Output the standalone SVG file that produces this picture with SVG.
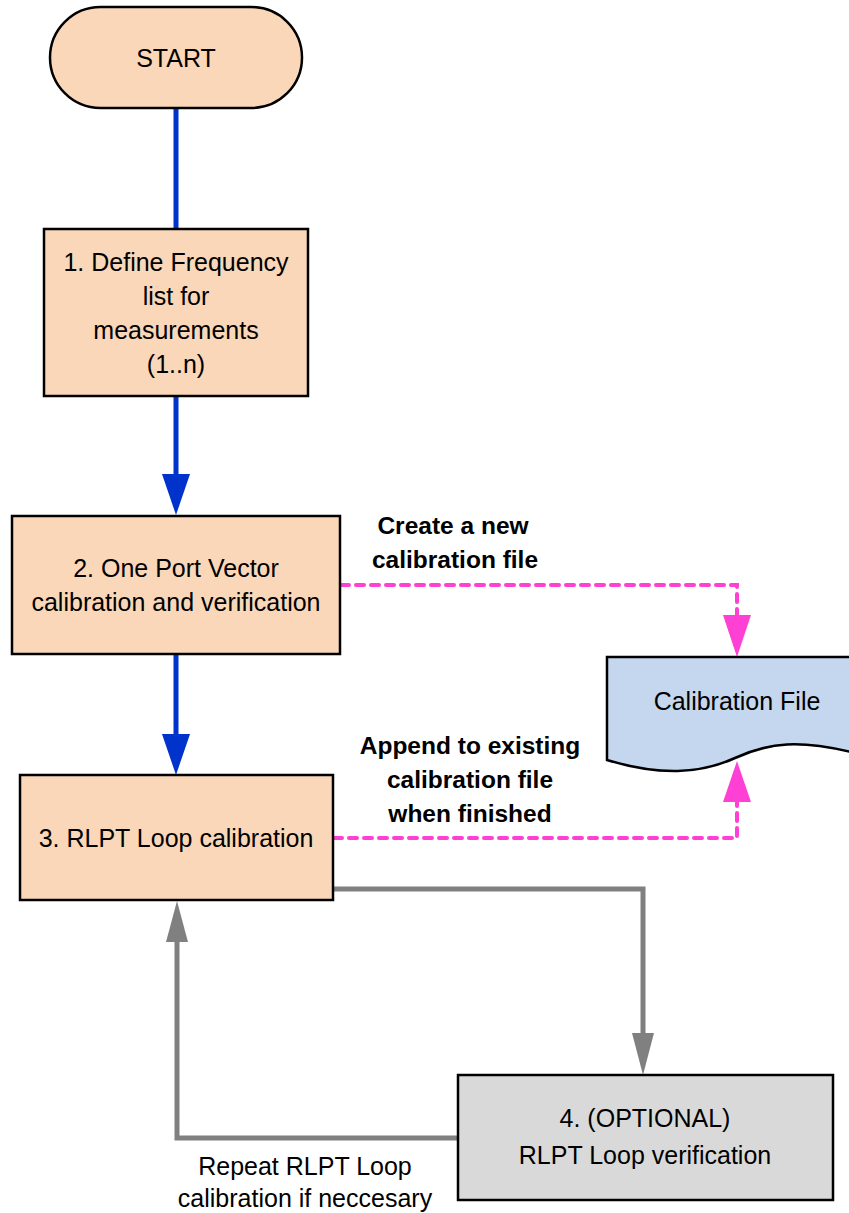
<svg xmlns="http://www.w3.org/2000/svg" width="849" height="1213" viewBox="0 0 849 1213">
<style>
.n{fill:#fad7b9;stroke:#000;stroke-width:2.5}
.g{fill:#d9d9d9;stroke:#000;stroke-width:2.5}
.f{fill:#c5d7ee;stroke:#000;stroke-width:2.5}
.t{font-family:"Liberation Sans",Arial,sans-serif;font-size:25px;fill:#000;text-anchor:middle}
.b{font-weight:bold;font-size:24.5px}
.blue{stroke:#0033cc;stroke-width:5;fill:none}
.pink{stroke:#ff40d4;stroke-width:4;fill:none;stroke-dasharray:8 7;stroke-linecap:round}
.gray{stroke:#808080;stroke-width:5;fill:none}
</style>
<rect width="849" height="1213" fill="#fff"/>
<g id="connectors">
<line class="blue" x1="176" y1="108" x2="176" y2="229"/>
<line class="blue" x1="176" y1="396" x2="176" y2="476"/>
<polygon points="162,474 190,474 176,515" fill="#0033cc"/>
<line class="blue" x1="176" y1="654" x2="176" y2="736"/>
<polygon points="162,734 190,734 176,775" fill="#0033cc"/>
<polyline class="pink" points="341,585 737,585 737,617"/>
<polygon points="723,615 751,615 737,657" fill="#ff40d4"/>
<polyline class="pink" points="334,838 737,838 737,800"/>
<polygon points="723,802 751,802 737,761" fill="#ff40d4"/>
<polyline class="gray" points="333,889 643,889 643,1035"/>
<polygon points="632,1033 654,1033 643,1075" fill="#808080"/>
<polyline class="gray" points="458,1138 177,1138 177,940"/>
<polygon points="166,942 188,942 177,901" fill="#808080"/>
</g>
<g id="start">
<rect class="n" x="50" y="7" width="252" height="101" rx="50.5" ry="50.5"/>
<text class="t" x="176" y="67">START</text>
</g>
<g id="step1">
<rect class="n" x="44" y="229" width="264" height="167"/>
<text class="t" x="176" y="271">1. Define Frequency</text>
<text class="t" x="176" y="305">list for</text>
<text class="t" x="176" y="339">measurements</text>
<text class="t" x="176" y="373">(1..n)</text>
</g>
<g id="step2">
<rect class="n" x="12" y="516" width="328" height="138"/>
<text class="t" x="176" y="577">2. One Port Vector</text>
<text class="t" x="176" y="611">calibration and verification</text>
</g>
<g id="step3">
<rect class="n" x="20" y="775" width="313" height="125"/>
<text class="t" x="176" y="847">3. RLPT Loop calibration</text>
</g>
<g id="step4">
<rect class="g" x="458" y="1075" width="375" height="125"/>
<text class="t" x="645" y="1127">4. (OPTIONAL)</text>
<text class="t" x="645" y="1164">RLPT Loop verification</text>
</g>
<g id="calfile">
<path class="f" d="M607,657 H851 V752 C800,740 770,742 735,758 C700,774 660,776 607,760 Z"/>
<text class="t" x="737" y="710">Calibration File</text>
</g>
<g id="labels">
<text class="t b" x="453" y="534">Create a new</text>
<text class="t b" x="455" y="568">calibration file</text>
<text class="t b" x="470" y="754">Append to existing</text>
<text class="t b" x="470" y="788">calibration file</text>
<text class="t b" x="470" y="822">when finished</text>
<text class="t" x="305" y="1175">Repeat RLPT Loop</text>
<text class="t" x="305" y="1207">calibration if neccesary</text>
</g>
</svg>
